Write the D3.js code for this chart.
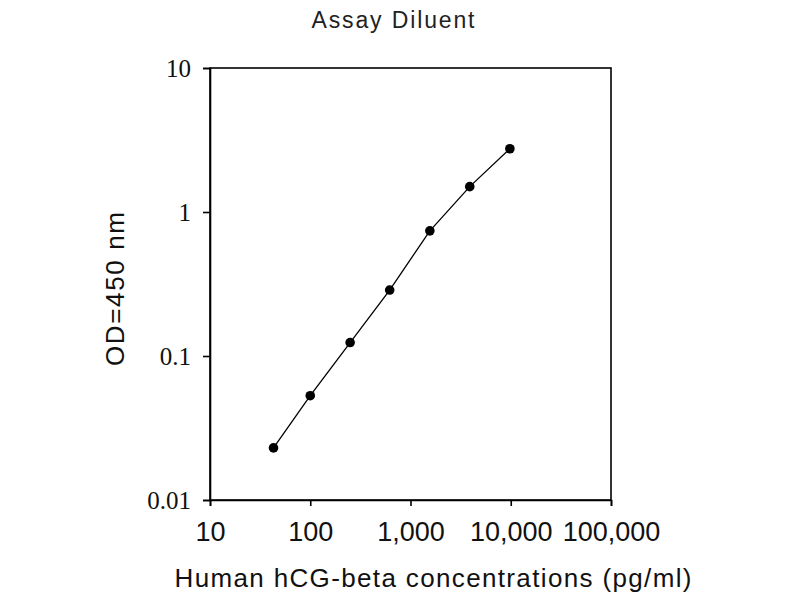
<!DOCTYPE html>
<html>
<head>
<meta charset="utf-8">
<script src="https://cdn.jsdelivr.net/npm/d3@7"></script>
<style>
  body { margin: 0; background: #fff; }
</style>
</head>
<body>
<div id="chart-container"></div>
<script>
// concentrations (pg/ml) and OD at 450 nm
const conc = [43, 100, 250, 620, 1560, 3900, 9800];
const od = [0.023, 0.053, 0.124, 0.287, 0.74, 1.5, 2.75];

const xTicks = [10, 100, 1000, 10000, 100000];
const xTickLabels = ["10", "100", "1,000", "10,000", "100,000"];
const yTicks = [0.01, 0.1, 1, 10];
const yTickLabels = ["0.01", "0.1", "1", "10"];

const width = 800;
const height = 600;
const margin = { top: 68, right: 189, bottom: 100, left: 210 };

const svg = d3.select("#chart-container")
    .append("svg")
        .attr("width", width)
        .attr("height", height);

const x = d3.scaleLog()
    .domain([10, 100000])
    .range([margin.left, width - margin.right]);

const y = d3.scaleLog()
    .domain([0.01, 10])
    .range([height - margin.bottom, margin.top]);

// frame: top and right lines
svg.append("rect")
    .attr("x", x(10))
    .attr("y", y(10))
    .attr("width", x(100000) - x(10))
    .attr("height", y(0.01) - y(10))
    .attr("fill", "none")
    .attr("stroke", "#000")
    .attr("stroke-width", 1.6);

// x axis
const xAxis = svg.append("g")
    .attr("transform", `translate(0,${y(0.01)})`)
    .call(d3.axisBottom(x)
        .tickValues(xTicks)
        .tickFormat((d, i) => xTickLabels[i])
        .tickSize(6)
        .tickPadding(16));
xAxis.select(".domain").attr("stroke-width", 1.6);
xAxis.selectAll(".tick line").attr("stroke-width", 1.6);
xAxis.selectAll(".tick text")
    .attr("font-family", "Liberation Sans, Arial, sans-serif")
    .attr("font-size", 27)
    .attr("fill", "#111");

// y axis
const yAxis = svg.append("g")
    .attr("transform", `translate(${x(10)},0)`)
    .call(d3.axisLeft(y)
        .tickValues(yTicks)
        .tickFormat((d, i) => yTickLabels[i])
        .tickSize(7)
        .tickPadding(12));
yAxis.select(".domain").attr("stroke-width", 1.6);
yAxis.selectAll(".tick line").attr("stroke-width", 1.6);
yAxis.selectAll(".tick text")
    .attr("font-family", "Liberation Serif, Times New Roman, serif")
    .attr("font-size", 25)
    .attr("fill", "#111");

// line + points
const pts = conc.map((c, i) => ({ c, v: od[i] }));

svg.append("path")
    .datum(pts)
    .attr("fill", "none")
    .attr("stroke", "#000")
    .attr("stroke-width", 1.3)
    .attr("d", d3.line().x(d => x(d.c)).y(d => y(d.v)));

svg.selectAll("circle.pt")
    .data(pts)
    .enter()
    .append("circle")
        .attr("class", "pt")
        .attr("cx", d => x(d.c))
        .attr("cy", d => y(d.v))
        .attr("r", 4.8)
        .attr("fill", "#000");

// title
svg.append("text")
    .attr("x", 393)
    .attr("y", 28)
    .attr("text-anchor", "middle")
    .attr("font-family", "Liberation Sans, Arial, sans-serif")
    .attr("font-size", 23)
    .attr("fill", "#222")
    .attr("textLength", 163)
    .attr("lengthAdjust", "spacing")
    .text("Assay Diluent");

// x label
svg.append("text")
    .attr("x", 433)
    .attr("y", 587)
    .attr("text-anchor", "middle")
    .attr("font-family", "Liberation Sans, Arial, sans-serif")
    .attr("font-size", 26)
    .attr("fill", "#111")
    .attr("textLength", 517)
    .attr("lengthAdjust", "spacing")
    .text("Human hCG-beta concentrations (pg/ml)");

// y label
svg.append("text")
    .attr("transform", "translate(124,289) rotate(-90)")
    .attr("text-anchor", "middle")
    .attr("font-family", "Liberation Sans, Arial, sans-serif")
    .attr("font-size", 26)
    .attr("fill", "#111")
    .attr("textLength", 154)
    .attr("lengthAdjust", "spacing")
    .text("OD=450 nm");
</script>
</body>
</html>
